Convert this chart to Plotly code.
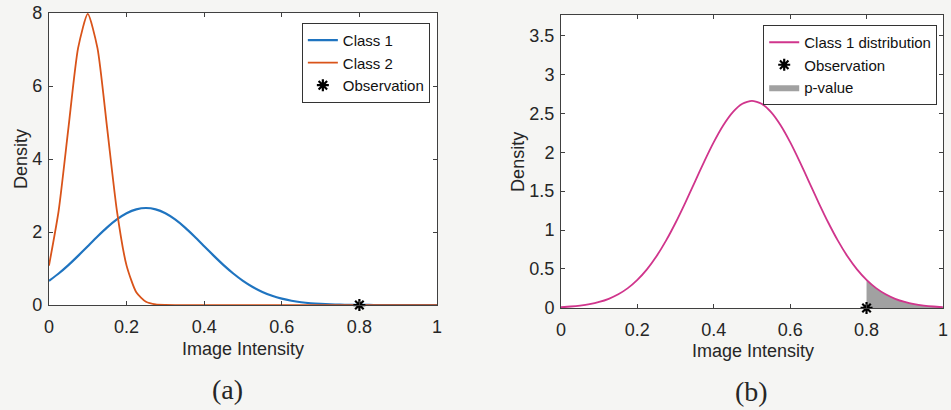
import plotly.graph_objects as go

# Image intensity grid shared by all curves
intensity = [round(i * 0.025, 3) for i in range(41)]

# (a) densities of the two classes
class1_density = [0.663, 0.864, 1.094, 1.347, 1.613, 1.880, 2.130, 2.347, 2.516, 2.623,
                  2.660, 2.623, 2.516, 2.347, 2.130, 1.880, 1.613, 1.347, 1.094, 0.864,
                  0.663, 0.495, 0.360, 0.254, 0.175, 0.117, 0.076, 0.048, 0.030, 0.018,
                  0.010, 0.006, 0.003, 0.002, 0.001, 0.0, 0.0, 0.0, 0.0, 0.0, 0.0]
class2_density = [1.08, 2.59, 4.84, 7.04, 7.98, 7.04, 4.84, 2.59, 1.08, 0.35,
                  0.089, 0.017, 0.003, 0.0, 0.0, 0.0, 0.0, 0.0, 0.0, 0.0,
                  0.0, 0.0, 0.0, 0.0, 0.0, 0.0, 0.0, 0.0, 0.0, 0.0,
                  0.0, 0.0, 0.0, 0.0, 0.0, 0.0, 0.0, 0.0, 0.0, 0.0, 0.0]

# (b) class 1 distribution used for the test
class1_dist = [0.010, 0.018, 0.030, 0.048, 0.076, 0.117, 0.175, 0.254, 0.360, 0.495,
               0.663, 0.864, 1.094, 1.347, 1.613, 1.880, 2.130, 2.347, 2.516, 2.623,
               2.660, 2.623, 2.516, 2.347, 2.130, 1.880, 1.613, 1.347, 1.094, 0.864,
               0.663, 0.495, 0.360, 0.254, 0.175, 0.117, 0.076, 0.048, 0.030, 0.018, 0.010]

observation = 0.8

x_ticks = [0, 0.2, 0.4, 0.6, 0.8, 1]
x_tick_text = ["0", "0.2", "0.4", "0.6", "0.8", "1"]
y_ticks_a = [0, 2, 4, 6, 8]
y_ticks_b = [0, 0.5, 1, 1.5, 2, 2.5, 3, 3.5]
y_tick_text_b = ["0", "0.5", "1", "1.5", "2", "2.5", "3", "3.5"]

BLUE = "#1f74c0"
ORANGE = "#D95319"
PINK = "#D0358C"
FONT = "Liberation Sans"
TEXT = "#262626"

fig = go.Figure()

# ----- panel (a) -----
fig.add_trace(go.Scatter(x=intensity, y=class1_density, mode="lines", name="Class 1",
                         line=dict(color=BLUE, width=2.2, shape="spline", smoothing=0.6),
                         xaxis="x", yaxis="y", legend="legend"))
fig.add_trace(go.Scatter(x=intensity, y=class2_density, mode="lines", name="Class 2",
                         line=dict(color=ORANGE, width=1.8, shape="spline", smoothing=0.6),
                         xaxis="x", yaxis="y", legend="legend"))
fig.add_trace(go.Scatter(x=[observation], y=[0], mode="markers", name="Observation",
                         marker=dict(symbol="asterisk", size=10, color="black",
                                     line=dict(color="black", width=2.2)),
                         cliponaxis=False, xaxis="x", yaxis="y", legend="legend"))

# ----- panel (b) -----
tail_x = [v for v in intensity if v >= observation]
tail_y = [d for v, d in zip(intensity, class1_dist) if v >= observation]
fig.add_trace(go.Scatter(x=tail_x + tail_x[::-1], y=tail_y + [0] * len(tail_y),
                         mode="lines", fill="toself", name="p-value", legendrank=3,
                         fillcolor="rgba(145,145,145,0.85)", line=dict(width=0),
                         xaxis="x2", yaxis="y2", legend="legend2"))
fig.add_trace(go.Scatter(x=intensity, y=class1_dist, mode="lines",
                         name="Class 1 distribution", legendrank=1,
                         line=dict(color=PINK, width=1.8, shape="spline", smoothing=0.6),
                         xaxis="x2", yaxis="y2", legend="legend2"))
fig.add_trace(go.Scatter(x=[observation], y=[0], mode="markers", name="Observation",
                         legendrank=2,
                         marker=dict(symbol="asterisk", size=10, color="black",
                                     line=dict(color="black", width=2.2)),
                         cliponaxis=False, xaxis="x2", yaxis="y2", legend="legend2"))

axis_common = dict(showgrid=False, zeroline=False, showline=True, linecolor="#404040",
                   linewidth=1, mirror="ticks", ticks="inside", ticklen=4,
                   automargin=False, ticklabeloverflow="allow", tickcolor="#404040",
                   tickfont=dict(family=FONT, size=18, color=TEXT))

legend_common = dict(xanchor="right", yanchor="top", bgcolor="white",
                     bordercolor="#333", borderwidth=1,
                     font=dict(family=FONT, size=15, color="#111"),
                     tracegroupgap=0, itemwidth=30, traceorder="normal")


def label(text, x, y, size=18, angle=0, family=FONT):
    return dict(text=text, x=x, y=y, xref="paper", yref="paper", xanchor="center",
                yanchor="middle", textangle=angle, showarrow=False,
                font=dict(family=family, size=size, color=TEXT))


fig.update_layout(
    width=951, height=410,
    margin=dict(l=0, r=0, t=0, b=0),
    paper_bgcolor="#f5f5f3",
    plot_bgcolor="white",
    showlegend=True,
    xaxis=dict(domain=[0.0515, 0.4595], range=[0, 1], tickvals=x_ticks,
               ticktext=x_tick_text, anchor="y", ticklabelstandoff=5, **axis_common),
    yaxis=dict(domain=[0.256, 0.968], range=[0, 8], tickvals=y_ticks_a, anchor="x",
               ticklabelstandoff=2, **axis_common),
    xaxis2=dict(domain=[0.5899, 0.9915], range=[0, 1], tickvals=x_ticks,
                ticktext=x_tick_text, anchor="y2", ticklabelstandoff=5, **axis_common),
    yaxis2=dict(domain=[0.249, 0.963], range=[0, 3.76], tickvals=y_ticks_b,
                ticktext=y_tick_text_b, anchor="x2", ticklabelstandoff=2, **axis_common),
    legend=dict(x=0.452, y=0.944, **legend_common),
    legend2=dict(x=0.9855, y=0.939, **legend_common),
    annotations=[
        label("Density", 0.022, 0.612, angle=-90),
        label("Image Intensity", 0.255, 0.149),
        label("Density", 0.544, 0.606, angle=-90),
        label("Image Intensity", 0.792, 0.144),
        label("(a)", 0.239, 0.051, size=28, family="Liberation Serif"),
        label("(b)", 0.790, 0.046, size=28, family="Liberation Serif"),
    ],
)

fig.write_html("out.html")
